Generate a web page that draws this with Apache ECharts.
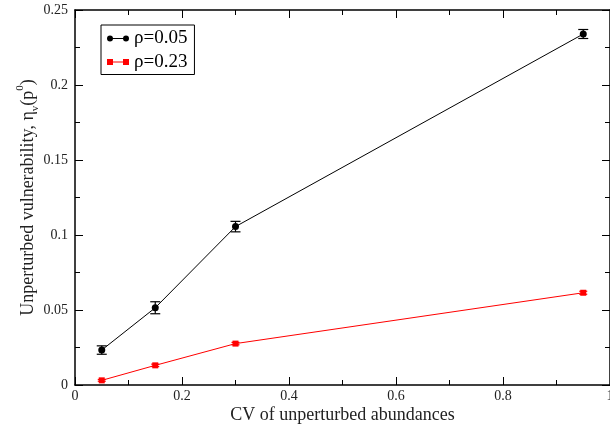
<!DOCTYPE html>
<html>
<head>
<meta charset="utf-8">
<script src="https://cdn.jsdelivr.net/npm/echarts@6/dist/echarts.min.js"></script>
<style>
  html, body { margin: 0; padding: 0; background: #fff; }
  #chart { width: 610px; height: 427px; }
</style>
</head>
<body>
<div id="chart"></div>
<script>
// CV of unperturbed abundances
const cvValues = [0.05, 0.15, 0.3, 0.95];

// Unperturbed vulnerability for two correlation levels, with error half-widths
const rho005 = [0.0233, 0.0515, 0.1056, 0.2340];
const rho005Err = [0.0028, 0.0040, 0.0035, 0.0030];
const rho023 = [0.0031, 0.0131, 0.0276, 0.0615];
const rho023Err = [0.0006, 0.0008, 0.0008, 0.0010];

const seriesNames = ['ρ=0.05', 'ρ=0.23'];
const xTickLabels = ['0', '0.2', '0.4', '0.6', '0.8', '1'];
const yTickLabels = ['0', '0.05', '0.1', '0.15', '0.2', '0.25'];

const FONT = 'Liberation Serif';

const pairs = (xs, ys) => xs.map((x, i) => [x, ys[i]]);
const errRows = (xs, ys, es) => xs.map((x, i) => [x, ys[i], es[i]]);

function errorBars(color, capHalf) {
  return function (params, api) {
    const x = api.value(0), y = api.value(1), e = api.value(2);
    const top = api.coord([x, y + e]);
    const bot = api.coord([x, y - e]);
    const style = { stroke: color, lineWidth: 1.2 };
    return {
      type: 'group',
      children: [
        { type: 'line', shape: { x1: top[0], y1: top[1], x2: bot[0], y2: bot[1] }, style },
        { type: 'line', shape: { x1: top[0] - capHalf, y1: top[1], x2: top[0] + capHalf, y2: top[1] }, style },
        { type: 'line', shape: { x1: bot[0] - capHalf, y1: bot[1], x2: bot[0] + capHalf, y2: bot[1] }, style }
      ]
    };
  };
}

const frameLine = { show: true, onZero: false, lineStyle: { color: '#000', width: 1.5 } };
const tickIn = { show: true, inside: true, length: 8, lineStyle: { color: '#000', width: 1 } };
const minorIn = { show: true, splitNumber: 2, length: 5, lineStyle: { color: '#000', width: 1 } };

// Legend glyphs: connecting line with a marker at each end (same winding so markers stay solid)
const circleIcon = 'path://M0,3 a3,3 0 1,1 6,0 a3,3 0 1,1 -6,0 Z M16,3 a3,3 0 1,1 6,0 a3,3 0 1,1 -6,0 Z M3,2.5 h16 v1 h-16 Z';
const squareIcon = 'path://M0,0 h6 v6 h-6 Z M16,0 h6 v6 h-6 Z M6,2.5 h10 v1 h-10 Z';

const chart = echarts.init(document.getElementById('chart'), null, { renderer: 'canvas' });

chart.setOption({
  animation: false,
  backgroundColor: '#fff',
  grid: { left: 75, top: 10, right: 0, bottom: 42, containLabel: false, outerBoundsMode: 'none' },
  legend: {
    left: 101,
    top: 25,
    orient: 'vertical',
    backgroundColor: '#fff',
    borderColor: '#000',
    borderWidth: 1,
    borderRadius: 0,
    padding: [4, 7, 3, 6],
    itemGap: 4.5,
    itemWidth: 22,
    itemHeight: 6,
    textStyle: { fontFamily: FONT, fontSize: 19, color: '#000', lineHeight: 19 },
    data: [
      { name: seriesNames[0], icon: circleIcon },
      { name: seriesNames[1], icon: squareIcon }
    ]
  },
  xAxis: [
    {
      type: 'value', min: 0, max: 1, interval: 0.2,
      axisLine: frameLine, axisTick: tickIn, minorTick: minorIn,
      splitLine: { show: false },
      axisLabel: {
        margin: 4, fontFamily: FONT, fontSize: 14, color: '#222',
        formatter: (v) => xTickLabels[Math.round(v / 0.2)]
      },
      name: 'CV of unperturbed abundances',
      nameLocation: 'middle', nameGap: 21, nameMoveOverlap: false,
      nameTextStyle: { fontFamily: FONT, fontSize: 18, color: '#222' }
    },
    {
      type: 'value', min: 0, max: 1, interval: 0.2, position: 'top',
      axisLine: frameLine, axisTick: tickIn, minorTick: minorIn,
      splitLine: { show: false }, axisLabel: { show: false }
    }
  ],
  yAxis: [
    {
      type: 'value', min: 0, max: 0.25, interval: 0.05,
      axisLine: frameLine, axisTick: tickIn, minorTick: minorIn,
      splitLine: { show: false },
      axisLabel: {
        margin: 7, fontFamily: FONT, fontSize: 14, color: '#222',
        formatter: (v) => yTickLabels[Math.round(v / 0.05)]
      },
      name: '{a|Unperturbed vulnerability, η}{sub|v}{a|(p}{sup|0}{a|)}',
      nameLocation: 'middle', nameGap: 34, nameRotate: 90, nameMoveOverlap: false,
      nameTextStyle: {
        fontFamily: FONT, fontSize: 18, color: '#222',
        rich: {
          a: { fontFamily: FONT, fontSize: 18, color: '#222', lineHeight: 26 },
          sub: { fontFamily: FONT, fontSize: 11, color: '#222', lineHeight: 18, verticalAlign: 'bottom' },
          sup: { fontFamily: FONT, fontSize: 11, color: '#222', lineHeight: 10, verticalAlign: 'top' }
        }
      }
    },
    {
      type: 'value', min: 0, max: 0.25, interval: 0.05, position: 'right',
      axisLine: frameLine, axisTick: tickIn, minorTick: minorIn,
      splitLine: { show: false }, axisLabel: { show: false }
    }
  ],
  series: [
    {
      name: seriesNames[0], type: 'line', xAxisIndex: 0, yAxisIndex: 0,
      data: pairs(cvValues, rho005),
      symbol: 'circle', symbolSize: 7,
      itemStyle: { color: '#000' },
      lineStyle: { color: '#000', width: 1 },
      z: 3
    },
    {
      name: seriesNames[1], type: 'line', xAxisIndex: 0, yAxisIndex: 0,
      data: pairs(cvValues, rho023),
      symbol: 'rect', symbolSize: 6,
      itemStyle: { color: '#ff0000' },
      lineStyle: { color: '#ff0000', width: 1 },
      z: 3
    },
    {
      name: 'err005', type: 'custom', xAxisIndex: 0, yAxisIndex: 0,
      data: errRows(cvValues, rho005, rho005Err),
      renderItem: errorBars('#000', 5),
      encode: { x: 0, y: [1] },
      z: 2
    },
    {
      name: 'err023', type: 'custom', xAxisIndex: 0, yAxisIndex: 0,
      data: errRows(cvValues, rho023, rho023Err),
      renderItem: errorBars('#ff0000', 4),
      encode: { x: 0, y: [1] },
      z: 2
    }
  ]
});
</script>
</body>
</html>
